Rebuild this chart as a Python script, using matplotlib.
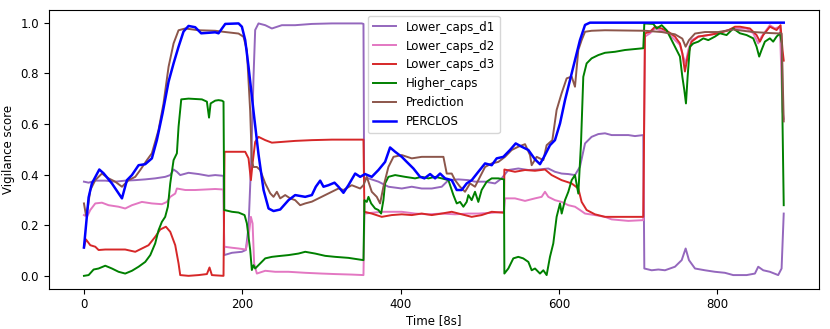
""" Vigilance score comparison """

from matplotlib import pyplot as plt

plt.rcParams['font.size'] = 8.5

# Lower_caps_d1 (purple)
d1_x = [0, 5.9, 14.3, 26.9, 39.5, 52.1, 64.8, 77.4, 90, 102.6, 109, 113.2, 117.4, 121.6,
        132.1, 144.8, 157.4, 165.8, 176.3, 177.2, 186.9, 199.5, 204.5, 207.9, 211.3, 214.2,
        216.3, 220.5, 229, 237.4, 250, 266.8, 287.9, 313.1, 351, 353.1, 353.9, 359.4, 372,
        384.6, 401.5, 414.1, 426.7, 439.4, 452, 460.4, 473, 485.6, 494, 506.7, 519.3, 527.7,
        536.1, 548.7, 561.4, 574, 586.6, 595, 603.4, 611.9, 620.3, 626.6, 633, 641.3, 649.8,
        658.2, 666.6, 687.7, 696.1, 706.6, 707.9, 717.2, 725.6, 734, 746.6, 755.1, 760.1,
        764.3, 771.9, 784.5, 797.1, 809.7, 820.2, 837.1, 847.6, 851.8, 858.1, 866.5, 877,
        881.3, 884]
d1_y = [0.372, 0.368, 0.376, 0.376, 0.372, 0.376, 0.378, 0.381, 0.385, 0.391, 0.398, 0.42,
        0.411, 0.398, 0.407, 0.402, 0.395, 0.398, 0.395, 0.082, 0.091, 0.095, 0.102, 0.194,
        0.457, 0.786, 0.971, 0.997, 0.99, 0.977, 0.99, 0.99, 0.995, 0.997, 0.997, 0.995,
        0.385, 0.385, 0.372, 0.352, 0.345, 0.352, 0.345, 0.345, 0.352, 0.378, 0.381, 0.378,
        0.372, 0.372, 0.365, 0.385, 0.418, 0.424, 0.418, 0.42, 0.424, 0.411, 0.404, 0.402,
        0.398, 0.431, 0.523, 0.549, 0.56, 0.563, 0.556, 0.556, 0.552, 0.556, 0.029, 0.022,
        0.025, 0.022, 0.036, 0.062, 0.108, 0.062, 0.029, 0.022, 0.016, 0.012, 0.003, 0.003,
        0.009, 0.036, 0.022, 0.016, 0.003, 0.029, 0.246]

# Lower_caps_d2 (pink)
d2_x = [0, 3.8, 8, 14.3, 22.7, 31.1, 43.7, 52.1, 60.6, 73.2, 85.8, 98.4, 104.8, 109, 115.3,
        117.4, 128, 140.5, 153.2, 165.8, 176.3, 177.2, 186.9, 195.3, 204.5, 207.9, 210.9,
        213, 215, 218.4, 229, 241.6, 258.4, 279.5, 300.5, 317.3, 338.3, 353.1, 354.3, 363.6,
        376.2, 388.8, 401.5, 418.3, 435.2, 452, 468.8, 485.6, 498.2, 515.1, 530.6, 531.9,
        544.5, 557.2, 569.8, 578.2, 582.4, 586.6, 595, 603.4, 611.9, 620.3, 626.6, 633,
        645.5, 658.2, 666.6, 687.7, 706.6, 708.7, 715.1, 721.4, 729.8, 738.2, 746.6, 752.9,
        757.1, 760.1, 763.4, 767.7, 776.1, 788.7, 801.3, 814, 822.4, 837.1, 845.5, 851.8,
        856, 866.5, 872.8, 879.2, 882.5, 884]
d2_y = [0.24, 0.233, 0.26, 0.286, 0.289, 0.279, 0.273, 0.266, 0.279, 0.292, 0.286, 0.283,
        0.292, 0.312, 0.325, 0.345, 0.339, 0.339, 0.341, 0.343, 0.341, 0.115, 0.111, 0.108,
        0.104, 0.154, 0.233, 0.207, 0.049, 0.009, 0.02, 0.016, 0.016, 0.012, 0.009, 0.007,
        0.005, 0.003, 0.246, 0.249, 0.253, 0.253, 0.253, 0.246, 0.243, 0.246, 0.243, 0.246,
        0.246, 0.249, 0.253, 0.306, 0.306, 0.296, 0.306, 0.312, 0.332, 0.312, 0.299, 0.292,
        0.279, 0.273, 0.26, 0.246, 0.24, 0.233, 0.223, 0.217, 0.22, 0.945, 0.958, 0.977,
        0.968, 0.958, 0.931, 0.912, 0.866, 0.839, 0.892, 0.931, 0.945, 0.951, 0.958, 0.971,
        0.977, 0.977, 0.958, 0.918, 0.945, 0.99, 0.977, 0.984, 0.65, 0.62]

# Lower_caps_d3 (red)
d3_x = [0, 2.5, 8, 14.3, 18.5, 26.9, 39.5, 52.1, 64.8, 73.2, 81.6, 90, 96.3, 103.5, 109,
        115.3, 119.5, 121.6, 132.1, 144.8, 155.3, 158.6, 161.6, 165.8, 176.3, 177.6, 191.1,
        203.7, 207.9, 210.9, 213, 216.3, 220.5, 229, 237.4, 250, 266.8, 287.9, 313.1, 353.1,
        354.3, 363.6, 376.2, 388.8, 401.5, 414.1, 426.7, 439.4, 452, 464.6, 477.2, 489.8,
        502.4, 515.1, 530.6, 531.1, 544.5, 557.2, 569.8, 582.4, 590.8, 603.4, 616.1, 624.5,
        628.7, 635, 645.5, 658.2, 666.6, 687.7, 706.6, 708.7, 715.1, 721.4, 729.8, 738.2,
        746.6, 752.9, 755.9, 759.2, 762.6, 767.7, 776.1, 788.7, 801.3, 814, 822.4, 828.7,
        841.3, 849.7, 853.9, 858.1, 866.5, 875, 880, 882.5, 884]
d3_y = [0.112, 0.144, 0.121, 0.115, 0.102, 0.104, 0.104, 0.104, 0.095, 0.108, 0.121, 0.154,
        0.183, 0.194, 0.174, 0.121, 0.049, 0.003, 0.0, 0.003, 0.007, 0.033, 0.003, 0.002,
        0.0, 0.49, 0.49, 0.49, 0.464, 0.378, 0.444, 0.529, 0.549, 0.536, 0.526, 0.529, 0.533,
        0.536, 0.538, 0.538, 0.253, 0.246, 0.233, 0.24, 0.243, 0.24, 0.246, 0.24, 0.246,
        0.253, 0.243, 0.233, 0.24, 0.253, 0.249, 0.42, 0.411, 0.418, 0.415, 0.42, 0.398,
        0.378, 0.365, 0.345, 0.292, 0.26, 0.243, 0.233, 0.233, 0.233, 0.233, 0.958, 0.964,
        0.984, 0.977, 0.964, 0.945, 0.918, 0.879, 0.807, 0.866, 0.925, 0.945, 0.951, 0.958,
        0.97, 0.984, 0.984, 0.977, 0.951, 0.925, 0.951, 0.984, 0.971, 0.99, 0.892, 0.85]

# Higher_caps (green)
hc_x = [0, 5.9, 12.2, 18.5, 26.9, 35.3, 43.7, 52.1, 60.6, 69, 77.4, 83.8, 90, 94.2, 98.4,
        102.6, 106, 109, 113.2, 117.4, 119.5, 122.9, 132.1, 149, 155.3, 158, 160, 165.8,
        170, 174.2, 176.3, 177.2, 186.9, 195.3, 202.9, 205.8, 207.9, 210, 212.1, 214.2,
        216.3, 222.6, 229, 237.4, 245.8, 258.4, 271, 279.5, 292.1, 304.7, 317.3, 334.1,
        346.8, 353.1, 354.3, 357.3, 359.4, 362.8, 367.8, 372, 375.4, 378.3, 380.4, 384.6,
        393.1, 405.7, 418.3, 426.7, 435.2, 443.6, 452, 460.4, 466.7, 470.9, 475.1, 479.3,
        483.5, 485.6, 489.8, 494, 498.2, 502.4, 508.8, 515.1, 523.5, 530.6, 531.1, 536.1,
        542.4, 548.7, 554.9, 561.4, 565.6, 569.8, 576.1, 580.3, 584.5, 588.7, 592.9, 597.1,
        601.4, 603.5, 607.7, 611.9, 616.1, 620.3, 624.5, 627.9, 630.8, 635, 641.3, 649.8,
        658.2, 670.9, 683.5, 696.1, 706.6, 707.9, 719.3, 723.5, 729.8, 736.1, 742.4, 748.7,
        752.9, 755.9, 758.4, 760.5, 762.6, 765.5, 769.8, 776.1, 782.4, 788.7, 797.1, 803.4,
        811.8, 820.2, 828.7, 837.1, 845.5, 849.7, 853, 856, 860.2, 866.5, 870.7, 875, 879.2,
        881.7, 882.5, 884]
hc_y = [0.0, 0.003, 0.025, 0.029, 0.04, 0.029, 0.016, 0.009, 0.02, 0.036, 0.055, 0.082,
        0.128, 0.18, 0.213, 0.233, 0.273, 0.365, 0.457, 0.484, 0.589, 0.697, 0.7, 0.697,
        0.688, 0.625, 0.681, 0.692, 0.694, 0.692, 0.688, 0.26, 0.253, 0.25, 0.24, 0.207,
        0.154, 0.102, 0.023, 0.042, 0.029, 0.049, 0.069, 0.075, 0.078, 0.082, 0.088, 0.095,
        0.088, 0.079, 0.075, 0.071, 0.065, 0.062, 0.299, 0.292, 0.312, 0.286, 0.266, 0.26,
        0.246, 0.299, 0.365, 0.391, 0.398, 0.391, 0.385, 0.391, 0.385, 0.391, 0.385, 0.378,
        0.319, 0.286, 0.292, 0.273, 0.292, 0.319, 0.299, 0.332, 0.292, 0.339, 0.372, 0.385,
        0.385, 0.381, 0.009, 0.029, 0.069, 0.075, 0.069, 0.055, 0.022, 0.029, 0.009, 0.022,
        0.003, 0.075, 0.128, 0.233, 0.286, 0.246, 0.299, 0.332, 0.378, 0.398, 0.325, 0.523,
        0.786, 0.839, 0.859, 0.872, 0.881, 0.885, 0.892, 0.896, 0.899, 0.997, 0.995, 0.977,
        0.99, 0.97, 0.931, 0.892, 0.866, 0.787, 0.734, 0.681, 0.787, 0.905, 0.918, 0.925,
        0.938, 0.931, 0.945, 0.958, 0.951, 0.977, 0.958, 0.951, 0.938, 0.905, 0.866, 0.892,
        0.925, 0.938, 0.925, 0.945, 0.958, 0.918, 0.602, 0.279]

# Prediction (brown)
pred_x = [0, 2.5, 5, 8, 14.3, 22.7, 31.1, 39.5, 48, 56.4, 64.8, 71.1, 79.5, 85.8, 94.2,
          100.5, 106.9, 113.2, 119.5, 128, 144.7, 165.8, 178.5, 195.3, 201.6, 205.8, 210,
          212.1, 214.2, 218.4, 222.6, 229, 235.3, 239.5, 243.7, 247.9, 254.2, 260.5, 266.8,
          273.1, 279.5, 287.9, 296.3, 304.7, 313.1, 321.5, 327.8, 338.3, 348.9, 353.1, 357.3,
          363.6, 369.9, 374.1, 378.3, 384.6, 391, 401.5, 414.1, 426.7, 439.4, 454.1, 458.3,
          464.6, 468.8, 475.1, 481.4, 487.7, 494, 500.3, 506.7, 515.1, 523.5, 531.9, 540.3,
          548.7, 557.2, 563.5, 565.6, 571.9, 580.3, 584.5, 591.7, 597.1, 603.4, 609.8, 616.1,
          620.3, 624.5, 628.7, 633, 641.3, 658.2, 708.7, 729.8, 746.6, 755.9, 760.1, 764.3,
          771.9, 784.5, 801.3, 820.2, 845.5, 866.5, 881.3, 884]
pred_y = [0.286, 0.24, 0.273, 0.339, 0.378, 0.404, 0.385, 0.372, 0.352, 0.378, 0.391, 0.418,
          0.457, 0.484, 0.576, 0.681, 0.826, 0.918, 0.97, 0.977, 0.97, 0.968, 0.963, 0.957,
          0.944, 0.891, 0.65, 0.45, 0.43, 0.43, 0.418, 0.365, 0.326, 0.312, 0.332, 0.306,
          0.319, 0.306, 0.299, 0.279, 0.286, 0.293, 0.306, 0.319, 0.332, 0.345, 0.339, 0.358,
          0.345, 0.358, 0.391, 0.332, 0.312, 0.286, 0.352, 0.43, 0.47, 0.477, 0.464, 0.47,
          0.47, 0.47, 0.404, 0.404, 0.378, 0.352, 0.332, 0.365, 0.352, 0.391, 0.43, 0.444,
          0.45, 0.47, 0.497, 0.51, 0.52, 0.477, 0.437, 0.47, 0.457, 0.516, 0.536, 0.655,
          0.721, 0.78, 0.787, 0.747, 0.892, 0.931, 0.964, 0.968, 0.97, 0.968, 0.963, 0.954,
          0.937, 0.905, 0.931, 0.957, 0.963, 0.963, 0.973, 0.963, 0.959, 0.957, 0.61]

# PERCLOS (blue)
perclos_x = [0, 5.9, 10, 19.4, 24.8, 35.3, 48, 54.3, 60.6, 69, 77.4, 85.8, 92.1, 99.3,
             106.9, 113.2, 119.5, 125.8, 132.1, 140.5, 148.1, 157.3, 165.8, 170, 178.5,
             195.3, 199.5, 203.7, 207.9, 214.2, 220.5, 226.9, 233.2, 239.5, 247.9, 258.4,
             266.8, 279.5, 287.9, 292.9, 298.4, 302.6, 308.9, 316.5, 321.5, 327.8, 334.1,
             342.6, 348.9, 355.2, 363.6, 372, 380.4, 386.7, 393.1, 401.5, 407.8, 416.2, 424.6,
             430.1, 437.3, 443.6, 449.9, 456.2, 464.6, 470.9, 477.2, 483.5, 489.9, 498.2,
             506.7, 515.1, 521.4, 529.8, 538.2, 545.4, 553, 561.4, 569.8, 576.1, 582.4, 588.7,
             595, 601.4, 607.7, 614, 620.3, 626.6, 633, 639.2, 884]
perclos_y = [0.112, 0.31, 0.365, 0.42, 0.405, 0.365, 0.306, 0.378, 0.398, 0.437, 0.441,
             0.464, 0.536, 0.642, 0.767, 0.839, 0.905, 0.965, 0.987, 0.982, 0.958, 0.96,
             0.962, 0.958, 0.995, 0.997, 0.984, 0.931, 0.826, 0.65, 0.48, 0.339, 0.266, 0.256,
             0.262, 0.299, 0.319, 0.312, 0.319, 0.352, 0.376, 0.352, 0.358, 0.368, 0.352,
             0.328, 0.358, 0.404, 0.391, 0.402, 0.391, 0.418, 0.45, 0.507, 0.49, 0.47, 0.45,
             0.424, 0.391, 0.385, 0.402, 0.385, 0.404, 0.385, 0.378, 0.339, 0.339, 0.365,
             0.378, 0.411, 0.444, 0.437, 0.464, 0.47, 0.497, 0.523, 0.51, 0.497, 0.46, 0.441,
             0.477, 0.516, 0.536, 0.602, 0.694, 0.773, 0.852, 0.931, 0.991, 1.0, 1.0]

fig = plt.figure(figsize=(8.3, 3.29), dpi=100)
ax = fig.add_axes([0.059, 0.1231, 0.9274, 0.8465])

ax.plot(d1_x, d1_y, color='tab:purple', linewidth=1.4, label='Lower_caps_d1')
ax.plot(d2_x, d2_y, color='tab:pink', linewidth=1.4, label='Lower_caps_d2')
ax.plot(d3_x, d3_y, color='tab:red', linewidth=1.4, label='Lower_caps_d3')
ax.plot(hc_x, hc_y, color='green', linewidth=1.4, label='Higher_caps')
ax.plot(pred_x, pred_y, color='tab:brown', linewidth=1.4, label='Prediction')
ax.plot(perclos_x, perclos_y, color='blue', linewidth=1.8, label='PERCLOS')

# Format plot.
ax.set_xlabel('Time [8s]', labelpad=2)
ax.set_ylabel('Vigilance score')
ax.legend(loc='upper center')

fig.savefig('out.png', dpi=100)
